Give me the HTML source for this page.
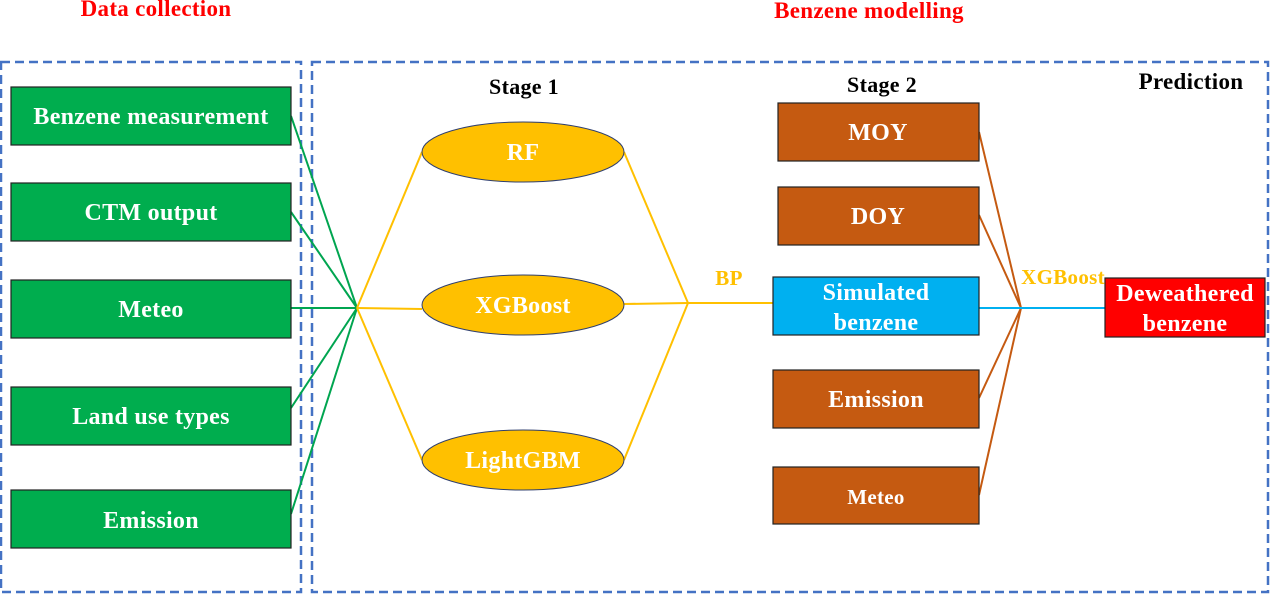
<!DOCTYPE html>
<html><head><meta charset="utf-8"><style>
body{margin:0;background:#fff;}
svg{display:block;font-family:"Liberation Serif",serif;font-weight:bold;}
</style></head><body>
<svg width="1271" height="594" viewBox="0 0 1271 594" xmlns="http://www.w3.org/2000/svg">
<g fill="none" stroke="#4472c4" stroke-width="2.5" stroke-dasharray="9,5">
<rect x="1" y="62" width="300" height="530"/>
<rect x="312" y="62" width="956" height="530"/>
</g>
<text x="156" y="16" fill="#ff0000" font-size="23" letter-spacing="0.3" text-anchor="middle">Data collection</text>
<text x="869" y="18" fill="#ff0000" font-size="23" letter-spacing="0.3" text-anchor="middle">Benzene modelling</text>
<text x="524" y="94" font-size="22" letter-spacing="0.3" text-anchor="middle">Stage 1</text>
<text x="882" y="92" font-size="22" letter-spacing="0.3" text-anchor="middle">Stage 2</text>
<text x="1191" y="89" font-size="23" letter-spacing="0.3" text-anchor="middle">Prediction</text>
<g stroke="#00a550" stroke-width="2" fill="none">
<line x1="291" y1="116" x2="357" y2="308"/>
<line x1="291" y1="212" x2="357" y2="308"/>
<line x1="291" y1="308" x2="357" y2="308"/>
<line x1="291" y1="408" x2="357" y2="308"/>
<line x1="291" y1="514" x2="357" y2="308"/>
</g>
<g stroke="#ffc000" stroke-width="2" fill="none">
<line x1="357" y1="308" x2="422" y2="152"/>
<line x1="357" y1="308" x2="422" y2="309"/>
<line x1="357" y1="308" x2="422" y2="460"/>
<line x1="624" y1="152" x2="688" y2="303"/>
<line x1="624" y1="304" x2="688" y2="303"/>
<line x1="624" y1="460" x2="688" y2="303"/>
<line x1="688" y1="303" x2="773" y2="303"/>
</g>
<g stroke="#c55a11" stroke-width="2" fill="none">
<line x1="979" y1="132" x2="1021" y2="308"/>
<line x1="979" y1="215" x2="1021" y2="308"/>
<line x1="979" y1="398" x2="1021" y2="308"/>
<line x1="979" y1="495" x2="1021" y2="308"/>
</g>
<line x1="979" y1="308" x2="1105" y2="308" stroke="#00b0f0" stroke-width="2"/>
<g stroke="#222" stroke-width="1.2">
<rect x="11" y="87" width="280" height="58" fill="#00ad4e"/>
<rect x="11" y="183" width="280" height="58" fill="#00ad4e"/>
<rect x="11" y="280" width="280" height="58" fill="#00ad4e"/>
<rect x="11" y="387" width="280" height="58" fill="#00ad4e"/>
<rect x="11" y="490" width="280" height="58" fill="#00ad4e"/>
<rect x="778" y="103" width="201" height="58" fill="#c55a11"/>
<rect x="778" y="187" width="201" height="58" fill="#c55a11"/>
<rect x="773" y="277" width="206" height="58" fill="#00b0f0"/>
<rect x="773" y="370" width="206" height="58" fill="#c55a11"/>
<rect x="773" y="467" width="206" height="57" fill="#c55a11"/>
<rect x="1105" y="278" width="160" height="59" fill="#ff0000"/>
</g>
<g stroke="#2f3f6f" stroke-width="1" fill="#ffc000">
<ellipse cx="523" cy="152" rx="101" ry="30"/>
<ellipse cx="523" cy="305" rx="101" ry="30"/>
<ellipse cx="523" cy="460" rx="101" ry="30"/>
</g>
<g fill="#fff" font-size="24" letter-spacing="0.3" text-anchor="middle">
<text x="151" y="124">Benzene measurement</text>
<text x="151" y="220">CTM output</text>
<text x="151" y="317">Meteo</text>
<text x="151" y="424">Land use types</text>
<text x="151" y="528">Emission</text>
<text x="523" y="160">RF</text>
<text x="523" y="313">XGBoost</text>
<text x="523" y="468">LightGBM</text>
<text x="878" y="140">MOY</text>
<text x="878" y="224">DOY</text>
<text x="876" y="300">Simulated</text>
<text x="876" y="330">benzene</text>
<text x="876" y="407">Emission</text>
<text x="876" y="504" font-size="21">Meteo</text>
<text x="1185" y="301">Deweathered</text>
<text x="1185" y="331">benzene</text>
</g>
<g fill="#ffc000" font-size="21" letter-spacing="0.3" text-anchor="middle">
<text x="729" y="285">BP</text>
<text x="1063" y="284">XGBoost</text>
</g>
</svg>
</body></html>
